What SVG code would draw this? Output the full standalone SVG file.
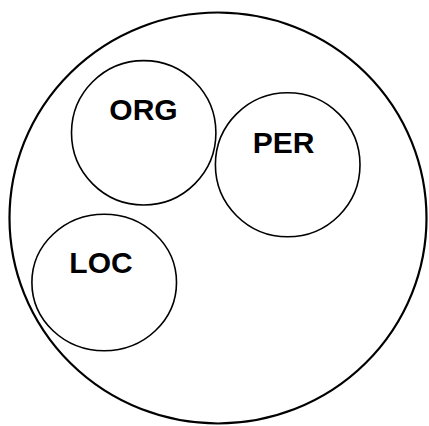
<svg xmlns="http://www.w3.org/2000/svg" width="429" height="426" viewBox="0 0 429 426">
<style>
.outer{fill:#fff;stroke:#000;stroke-width:2.2}
.set{fill:none;stroke:#000;stroke-width:1.6}
.lbl{font-family:"Liberation Sans",Arial,sans-serif;font-weight:bold;font-size:30px;fill:#000;text-anchor:middle}
</style>
<rect width="429" height="426" fill="#fff"/>
<g id="universe"><ellipse class="outer" cx="218" cy="218" rx="208.5" ry="205.5"/></g>
<g id="org"><ellipse class="set" cx="143.7" cy="132.8" rx="72.2" ry="72.2"/><text class="lbl" x="143.5" y="120">ORG</text></g>
<g id="per"><ellipse class="set" cx="287.7" cy="164.8" rx="72.3" ry="72"/><text class="lbl" x="283.5" y="152.5">PER</text></g>
<g id="loc"><ellipse class="set" cx="104.2" cy="282.5" rx="72.3" ry="68.2"/><text class="lbl" x="101" y="273.3">LOC</text></g>
<g id="connectors"></g>
</svg>
